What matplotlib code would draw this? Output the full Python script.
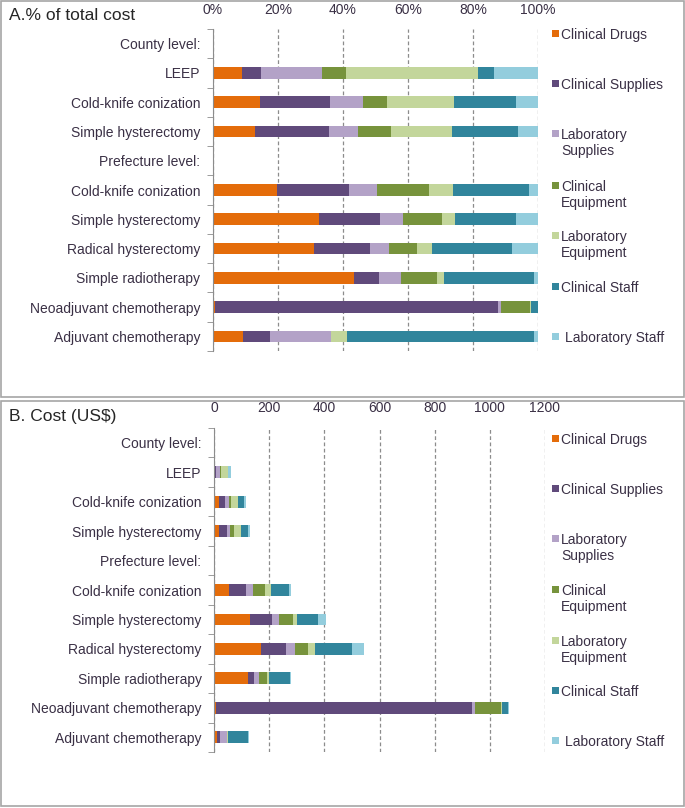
import numpy as np
import matplotlib
matplotlib.use("Agg")
import matplotlib.pyplot as plt
from matplotlib.patches import Rectangle

plt.rcParams['font.family'] = ['Liberation Sans', 'DejaVu Sans']

# row labels (top to bottom); header rows carry no bars
categories = ["County level:", "LEEP", "Cold-knife conization", "Simple hysterectomy",
              "Prefecture level:", "Cold-knife conization", "Simple hysterectomy",
              "Radical hysterectomy", "Simple radiotherapy", "Neoadjuvant chemotherapy",
              "Adjuvant chemotherapy"]
header_rows = [0, 4]

series_names = ["Clinical Drugs", "Clinical Supplies", "Laboratory\nSupplies",
                "Clinical\nEquipment", "Laboratory\nEquipment", "Clinical Staff",
                "Laboratory Staff"]
series_colors = ["#E46C0A", "#604A7B", "#B3A2C7", "#77933C", "#C3D69B", "#31859C", "#93CDDD"]

# cost per procedure (US$), order: LEEP, CKC, SH (county), CKC, SH, RH, SR, NAC, AC (prefecture)
clinical_drugs = [5.4, 16.6, 17.0, 54.8, 131.6, 169.0, 121.5, 7.5, 11.8]
clinical_supplies = [3.5, 25.0, 30.1, 61.7, 77.0, 93.7, 21.8, 929.4, 10.3]
lab_supplies = [11.3, 11.4, 11.9, 23.9, 28.4, 32.7, 18.8, 10.7, 23.6]
clinical_equipment = [4.3, 8.5, 13.2, 44.5, 48.6, 46.9, 30.5, 92.8, 0.0]
lab_equipment = [24.5, 23.8, 25.1, 20.3, 16.2, 24.5, 6.7, 3.2, 6.3]
clinical_staff = [2.8, 22.1, 26.7, 65.1, 75.3, 134.1, 77.6, 23.5, 72.6]
lab_staff = [8.2, 7.7, 8.1, 7.8, 27.9, 44.1, 3.1, 1.0, 1.4]

costs = np.array([clinical_drugs, clinical_supplies, lab_supplies, clinical_equipment,
                  lab_equipment, clinical_staff, lab_staff])
shares = costs / costs.sum(axis=0) * 100

W, H = 685, 808
fig = plt.figure(figsize=(W / 100, H / 100), dpi=100)

txt_col = "#3a3045"
grid_col = "#8c8c8c"


def fx(px):
    return px / W


def fy(py):
    return 1 - py / H


def draw_panel(values, box, ax_px, ticks, ticklabels, xmax, title, legend_y):
    x0, y0, x1, y1 = box
    fig.patches.append(Rectangle((fx(x0), fy(y1)), fx(x1 - x0), (y1 - y0) / H,
                                 transform=fig.transFigure, fill=False,
                                 edgecolor="#a6a6a6", linewidth=1.2))
    fig.text(fx(x0 + 8), fy(y0 + 15), title, fontsize=12.5, color="#262626",
             va="center", ha="left")

    l, t, r, b = ax_px
    ax = fig.add_axes([fx(l), fy(b), fx(r - l), (b - t) / H])
    pos = [i for i in range(len(categories)) if i not in header_rows]
    left = np.zeros(len(pos))
    for k in range(values.shape[0]):
        ax.barh(pos, values[k], left=left, height=0.4, color=series_colors[k],
                edgecolor="none")
        left += values[k]

    ax.set_xlim(0, xmax)
    ax.set_ylim(len(categories) - 0.5, -0.5)
    ax.set_xticks(ticks)
    ax.set_xticklabels(ticklabels)
    ax.xaxis.tick_top()
    ax.tick_params(axis="x", length=0, pad=9, labelsize=10, labelcolor=txt_col)
    ax.set_yticks(range(len(categories)))
    ax.set_yticklabels(categories)
    ax.tick_params(axis="y", length=0, pad=9, labelsize=10, labelcolor=txt_col)
    ax.set_yticks(np.arange(-0.5, len(categories), 1.0), minor=True)
    ax.tick_params(axis="y", which="minor", length=4, color=grid_col)
    ax.set_axisbelow(True)
    ax.xaxis.grid(True, linestyle=(0, (3, 2)), color=grid_col, linewidth=0.9)
    for s in ["top", "right", "bottom"]:
        ax.spines[s].set_visible(False)
    ax.spines["left"].set_color(grid_col)
    ax.set_facecolor("none")

    # legend drawn by hand to keep Excel-like spacing
    for k, name in enumerate(series_names):
        yc = legend_y[k]
        nlines = name.count("\n") + 1
        ytop = yc - (nlines - 1) * 8.5
        fig.patches.append(Rectangle((fx(552), fy(ytop + 2)), fx(7), 7 / H,
                                     transform=fig.transFigure,
                                     facecolor=series_colors[k], edgecolor="none"))
        tx = 565 if k == 6 else 561
        fig.text(fx(tx), fy(yc), name, fontsize=10, color=txt_col,
                 va="center", ha="left", linespacing=1.15)
    return ax


legend_a = [35, 85, 143, 195, 245, 288, 338]
legend_b = [440, 490, 548, 599, 650, 692, 742]

draw_panel(shares, (1, 1, 684, 397), (213, 29, 538, 351),
           [0, 20, 40, 60, 80, 100], ["0%", "20%", "40%", "60%", "80%", "100%"],
           100, "A.% of total cost", legend_a)
draw_panel(costs, (1, 401, 684, 806), (214, 428, 545, 752),
           [0, 200, 400, 600, 800, 1000, 1200],
           ["0", "200", "400", "600", "800", "1000", "1200"],
           1200, "B. Cost (US$)", legend_b)

fig.savefig("out.png", dpi=100)
